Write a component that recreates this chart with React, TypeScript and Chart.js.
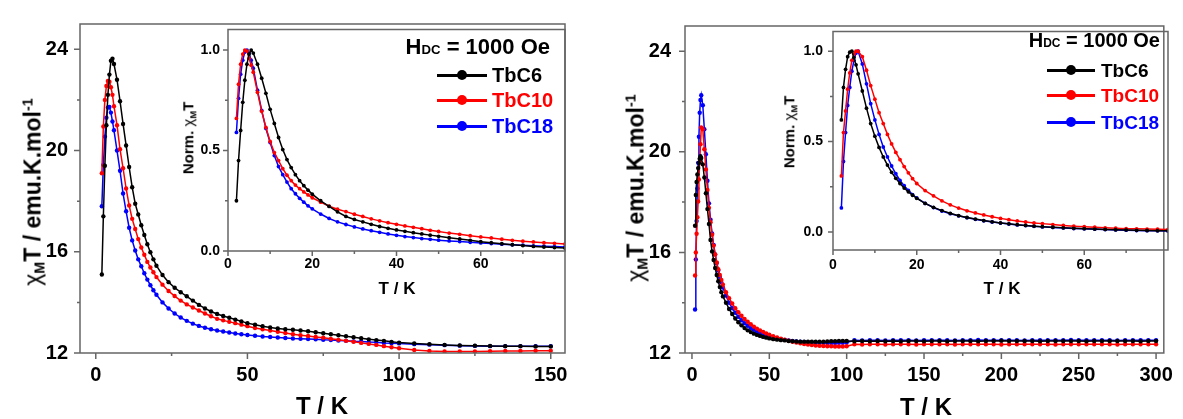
import React, { useEffect, useRef } from "react";
import { Chart, registerables } from "chart.js";

Chart.register(...registerables);

const FONT = "'Liberation Sans', Arial, Helvetica, sans-serif";
const FRAME_COLOR = "#666666";
const SERIES_NAMES = ["TbC6", "TbC10", "TbC18"];
const SERIES_COLORS = ["#000000", "#ff0000", "#0000ff"];

// ---------- temperatures (K) ----------
const tempsInset = [2, 2.5, 3, 3.5, 4, 4.5, 5, 5.5, 6, 7, 8, 9, 10, 11, 12, 13, 14, 15, 16, 17, 18, 19, 20, 22, 24, 26, 28, 30, 32, 34, 36, 38, 40, 42, 44, 46, 48, 50, 52.5, 55, 57.5, 60, 62.5, 65, 67.5, 70, 72.5, 75, 77.5, 80];
const tempsLeft = [2, 2.5, 3, 3.5, 4, 4.5, 5, 5.5, 6, 7, 8, 9, 10, 11, 12, 13, 14, 15, 16, 17, 18, 19, 20, 22, 24, 26, 28, 30, 32, 34, 36, 38, 40, 42, 44, 46, 48, 50, 52.5, 55, 57.5, 60, 62.5, 65, 67.5, 70, 72.5, 75, 77.5, 80,
  82.5, 85, 87.5, 90, 92.5, 95, 97.5, 100, 105, 110, 115, 120, 125, 130, 135, 140, 145, 150];
const tempsRight = [2, 2.5, 3, 3.5, 4, 4.5, 5, 5.5, 6, 7, 8, 9, 10, 11, 12, 13, 14, 15, 16, 17, 18, 19, 20, 22, 24, 26, 28, 30, 32, 34, 36, 38, 40, 42, 44, 46, 48, 50, 52.5, 55, 57.5, 60, 62.5, 65, 67.5, 70, 72.5, 75, 77.5, 80,
  82.5, 85, 87.5, 90, 92.5, 95, 97.5, 100, 105, 110, 115, 120, 125, 130, 135, 140, 145, 150, 155, 160, 165, 170, 175, 180, 185, 190, 195, 200,
  205, 210, 215, 220, 225, 230, 235, 240, 245, 250, 255, 260, 265, 270, 275, 280, 285, 290, 295, 300];

// ---------- left panel: chiMT (emu.K/mol) ----------
const leftTbC6 = [15.1, 17.4, 19.4, 21.0, 22.2, 23.0, 23.55, 23.63, 23.42,
  22.8, 21.95, 21.05, 20.2, 19.35, 18.55, 17.9, 17.47, 17.05, 16.66, 16.3, 15.98, 15.7, 15.45,
  15.08, 14.8, 14.58, 14.4, 14.24, 14.07, 13.9, 13.76, 13.64, 13.54, 13.46, 13.39, 13.32, 13.25, 13.18,
  13.12, 13.06, 13.01, 12.97, 12.94, 12.92, 12.89, 12.86, 12.82, 12.78, 12.74, 12.7,
  12.66, 12.62, 12.58, 12.54, 12.51, 12.48, 12.44, 12.41,
  12.38, 12.35, 12.32, 12.3, 12.29, 12.28, 12.27, 12.27, 12.26, 12.26];
const leftTbC10 = [19.1, 20.95, 22.0, 22.55, 22.75, 22.72, 22.5, 22.2, 21.75,
  21.0, 20.05, 19.3, 18.5, 17.83, 17.3, 16.9, 16.5, 16.17, 15.88, 15.6, 15.38, 15.19, 15.0,
  14.7, 14.45, 14.25, 14.07, 13.92, 13.8, 13.68, 13.56, 13.45, 13.35, 13.29, 13.23, 13.18, 13.12, 13.06,
  12.99, 12.94, 12.89, 12.84, 12.79, 12.74, 12.7, 12.67, 12.63, 12.6, 12.56, 12.52,
  12.48, 12.44, 12.4, 12.36, 12.32, 12.27, 12.23, 12.19,
  12.12, 12.08, 12.06, 12.06, 12.06, 12.07, 12.08, 12.08, 12.09, 12.09];
const leftTbC18 = [17.8, 19.43, 20.55, 21.3, 21.7, 21.72, 21.5, 21.15, 20.8,
  20.0, 19.2, 18.3, 17.6, 16.95, 16.45, 16.05, 15.7, 15.43, 15.15, 14.9, 14.68, 14.48, 14.3,
  14.0, 13.76, 13.56, 13.4, 13.27, 13.16, 13.07, 13.0, 12.94, 12.89, 12.85, 12.81, 12.77, 12.74, 12.71,
  12.68, 12.65, 12.63, 12.61, 12.59, 12.57, 12.56, 12.55, 12.54, 12.52, 12.51, 12.49,
  12.48, 12.46, 12.45, 12.43, 12.42, 12.4, 12.39, 12.38,
  12.35, 12.33, 12.31, 12.29, 12.28, 12.27, 12.27, 12.27, 12.27, 12.27];

// ---------- left inset: normalised chiMT ----------
const leftNormTbC6 = [0.25, 0.45, 0.6, 0.74, 0.85, 0.93, 0.98, 1.0, 0.985,
  0.93, 0.86, 0.785, 0.705, 0.635, 0.565, 0.505, 0.455, 0.415, 0.38, 0.35, 0.325, 0.303, 0.283,
  0.25, 0.222, 0.195, 0.172, 0.157, 0.145, 0.133, 0.122, 0.113, 0.105, 0.098, 0.091, 0.085, 0.079, 0.073,
  0.066, 0.06, 0.053, 0.046, 0.041, 0.036, 0.031, 0.027, 0.023, 0.02, 0.017, 0.015];
const leftNormTbC10 = [0.66, 0.83, 0.93, 0.98, 1.0, 0.995, 0.96, 0.925, 0.89,
  0.79, 0.695, 0.615, 0.545, 0.49, 0.45, 0.41, 0.377, 0.35, 0.328, 0.31, 0.294, 0.279, 0.265,
  0.243, 0.223, 0.208, 0.196, 0.183, 0.172, 0.16, 0.15, 0.141, 0.133, 0.125, 0.118, 0.111, 0.103, 0.097,
  0.089, 0.083, 0.076, 0.07, 0.065, 0.059, 0.053, 0.049, 0.045, 0.041, 0.038, 0.035];
const leftNormTbC18 = [0.59, 0.76, 0.88, 0.95, 0.99, 1.0, 0.985, 0.95, 0.91,
  0.8, 0.7, 0.61, 0.54, 0.475, 0.42, 0.38, 0.343, 0.31, 0.285, 0.262, 0.243, 0.225, 0.21,
  0.184, 0.162, 0.145, 0.132, 0.12, 0.11, 0.101, 0.093, 0.085, 0.078, 0.072, 0.067, 0.062, 0.058, 0.054,
  0.05, 0.047, 0.043, 0.04, 0.037, 0.034, 0.031, 0.029, 0.026, 0.024, 0.022, 0.02];

// ---------- right panel: chiMT (emu.K/mol) ----------
const rightTbC6 = [17.06, 18.28, 18.8, 19.1, 19.35, 19.56, 19.72, 19.82, 19.75,
  19.5, 18.98, 18.35, 17.72, 17.13, 16.49, 16.04, 15.7, 15.38, 15.1, 14.85, 14.62, 14.42, 14.25,
  14.0, 13.75, 13.55, 13.37, 13.22, 13.1, 12.99, 12.9, 12.83, 12.77, 12.72, 12.68, 12.64, 12.61, 12.58,
  12.55, 12.53, 12.51, 12.5, 12.48, 12.47, 12.46, 12.45, 12.45, 12.45, 12.45, 12.45,
  12.45, 12.45, 12.46, 12.47, 12.47, 12.48, 12.48, 12.48,
  12.47, 12.48, 12.47, 12.48, 12.47, 12.48, 12.47, 12.48, 12.48, 12.47,
  12.48, 12.48, 12.47, 12.48, 12.48, 12.48, 12.47, 12.48, 12.48, 12.49,
  12.48, 12.48, 12.48, 12.48, 12.47, 12.48, 12.48, 12.48, 12.48, 12.48,
  12.47, 12.48, 12.48, 12.48, 12.48, 12.48, 12.48, 12.47, 12.48, 12.48];
const rightTbC10 = [15.08, 16.0, 16.74, 17.4, 18.02, 18.9, 19.6, 20.3, 20.97,
  20.9, 20.1, 19.3, 18.48, 17.77, 17.2, 16.7, 16.27, 15.92, 15.6, 15.33, 15.1, 14.9, 14.72,
  14.42, 14.18, 13.97, 13.78, 13.62, 13.48, 13.35, 13.24, 13.14, 13.05, 12.97, 12.9, 12.84, 12.78, 12.73,
  12.67, 12.62, 12.57, 12.53, 12.49, 12.45, 12.42, 12.39, 12.36, 12.34, 12.32, 12.3,
  12.29, 12.28, 12.27, 12.27, 12.26, 12.26, 12.26, 12.27,
  12.35, 12.34, 12.35, 12.35, 12.34, 12.35, 12.35, 12.35, 12.34, 12.35,
  12.35, 12.35, 12.35, 12.34, 12.35, 12.35, 12.35, 12.35, 12.35, 12.34,
  12.35, 12.35, 12.35, 12.35, 12.35, 12.35, 12.34, 12.35, 12.35, 12.35,
  12.35, 12.35, 12.35, 12.35, 12.34, 12.35, 12.35, 12.35, 12.35, 12.35];
const rightTbC18 = [13.73, 15.72, 17.25, 18.54, 19.56, 20.6, 21.55, 22.06, 22.25,
  21.85, 20.9, 19.9, 18.85, 17.95, 17.3, 16.75, 16.3, 15.92, 15.58, 15.28, 15.02, 14.8, 14.6,
  14.28, 14.0, 13.78, 13.6, 13.44, 13.3, 13.18, 13.08, 12.99, 12.92, 12.85, 12.79, 12.74, 12.7, 12.66,
  12.62, 12.58, 12.55, 12.52, 12.5, 12.48, 12.46, 12.45, 12.44, 12.43, 12.42, 12.41,
  12.41, 12.41, 12.4, 12.4, 12.4, 12.41, 12.41, 12.42,
  12.51, 12.5, 12.51, 12.51, 12.5, 12.51, 12.51, 12.51, 12.5, 12.51,
  12.51, 12.51, 12.51, 12.5, 12.51, 12.51, 12.52, 12.51, 12.51, 12.51,
  12.51, 12.51, 12.5, 12.51, 12.51, 12.51, 12.51, 12.51, 12.52, 12.51,
  12.51, 12.51, 12.51, 12.51, 12.5, 12.51, 12.51, 12.51, 12.51, 12.51];

// ---------- right inset: normalised chiMT ----------
const rightNormTbC6 = [0.62, 0.8, 0.9, 0.97, 0.995, 1.0, 0.965, 0.925, 0.875,
  0.78, 0.685, 0.6, 0.53, 0.468, 0.415, 0.37, 0.33, 0.297, 0.268, 0.243, 0.222, 0.203, 0.186,
  0.158, 0.136, 0.118, 0.103, 0.09, 0.08, 0.071, 0.063, 0.056, 0.05, 0.045, 0.04, 0.036, 0.032, 0.029,
  0.026, 0.023, 0.02, 0.018, 0.016, 0.014, 0.012, 0.011, 0.009, 0.008, 0.007, 0.006];
const rightNormTbC10 = [0.31, 0.55, 0.67, 0.79, 0.88, 0.95, 0.985, 1.0, 1.0,
  0.97, 0.895, 0.81, 0.735, 0.66, 0.6, 0.54, 0.487, 0.44, 0.4, 0.362, 0.327, 0.295, 0.268,
  0.229, 0.2, 0.172, 0.15, 0.132, 0.117, 0.105, 0.094, 0.084, 0.075, 0.068, 0.061, 0.055, 0.05, 0.046,
  0.041, 0.036, 0.032, 0.029, 0.026, 0.023, 0.021, 0.018, 0.017, 0.016, 0.015, 0.014];
const rightNormTbC18 = [0.133, 0.39, 0.55, 0.7, 0.8, 0.89, 0.95, 0.99, 1.0,
  0.93, 0.82, 0.71, 0.62, 0.54, 0.47, 0.415, 0.365, 0.322, 0.285, 0.256, 0.23, 0.207, 0.188,
  0.158, 0.135, 0.116, 0.101, 0.089, 0.079, 0.07, 0.062, 0.055, 0.049, 0.044, 0.039, 0.035, 0.031, 0.028,
  0.025, 0.022, 0.019, 0.017, 0.015, 0.013, 0.011, 0.01, 0.008, 0.007, 0.006, 0.005];

// ---------- ticks ----------
const mainYMajor = [12, 16, 20, 24];
const mainYMinor = [14, 18, 22];
const leftXMajor = [0, 50, 100, 150];
const leftXMinor = [25, 75, 125];
const rightXMajor = [0, 50, 100, 150, 200, 250, 300];
const rightXMinor = [25, 75, 125, 175, 225, 275];
const insetXMajor = [0, 20, 40, 60];
const insetXMinor = [10, 30, 50, 70];
const insetYMajor = [0, 0.5, 1.0];
const insetYMinor = [0.25, 0.75];

type AxisDef = { min: number; max: number; major: number[]; minor: number[]; decimals: number };
type ChartDef = {
  temps: number[];
  series: number[][];
  x: AxisDef;
  y: AxisDef;
  box: { left: number; top: number; width: number; height: number };
  yAxisWidth: number;
  xAxisHeight: number;
  padTop: number;
  padRight: number;
  fontSize: number;
  xLabelPad: number;
  yLabelPad: number;
  majorLen: number;
  minorLen: number;
  pointRadius: number;
  lineWidth: number;
};

const frameTicksPlugin = {
  id: "frameTicks",
  afterDatasetsDraw(chart: any, _args: any, opts: any) {
    const { ctx, chartArea: a } = chart;
    const sx = chart.scales.x;
    const sy = chart.scales.y;
    ctx.save();
    ctx.strokeStyle = FRAME_COLOR;
    ctx.lineWidth = 1.5;
    ctx.beginPath();
    ctx.rect(a.left, a.top, a.right - a.left, a.bottom - a.top);
    const xTick = (v: number, len: number) => {
      const p = sx.getPixelForValue(v);
      ctx.moveTo(p, a.bottom);
      ctx.lineTo(p, a.bottom + len);
    };
    const yTick = (v: number, len: number) => {
      const p = sy.getPixelForValue(v);
      ctx.moveTo(a.left, p);
      ctx.lineTo(a.left - len, p);
    };
    opts.xMajor.forEach((v: number) => xTick(v, opts.majorLen));
    opts.xMinor.forEach((v: number) => xTick(v, opts.minorLen));
    opts.yMajor.forEach((v: number) => yTick(v, opts.majorLen));
    opts.yMinor.forEach((v: number) => yTick(v, opts.minorLen));
    ctx.stroke();
    ctx.restore();
  },
};

function PlotCanvas({ def }: { def: ChartDef }) {
  const ref = useRef<HTMLCanvasElement | null>(null);
  useEffect(() => {
    const canvas = ref.current;
    if (!canvas) return;
    const datasets = def.series.map((vals, i) => ({
      label: SERIES_NAMES[i],
      data: def.temps.map((t, j) => ({ x: t, y: vals[j] })),
      borderColor: SERIES_COLORS[i],
      backgroundColor: SERIES_COLORS[i],
      borderWidth: def.lineWidth,
      pointRadius: def.pointRadius,
      pointBorderWidth: 0,
      pointHoverRadius: def.pointRadius,
      tension: 0,
      fill: false,
    }));
    const tickFont = { family: FONT, size: def.fontSize, weight: "bold" as const };
    const chart = new Chart(canvas, {
      type: "line",
      data: { datasets },
      options: {
        responsive: false,
        animation: false,
        devicePixelRatio: 1,
        events: [],
        layout: { padding: { top: def.padTop, right: def.padRight, left: 0, bottom: 0 } },
        plugins: {
          legend: { display: false },
          tooltip: { enabled: false },
          frameTicks: {
            xMajor: def.x.major,
            xMinor: def.x.minor,
            yMajor: def.y.major,
            yMinor: def.y.minor,
            majorLen: def.majorLen,
            minorLen: def.minorLen,
          },
        } as any,
        scales: {
          x: {
            type: "linear",
            min: def.x.min,
            max: def.x.max,
            afterBuildTicks: (s: any) => {
              s.ticks = def.x.major.map((v) => ({ value: v }));
            },
            afterFit: (s: any) => {
              s.height = def.xAxisHeight;
            },
            grid: { display: false, drawTicks: false },
            border: { display: false },
            ticks: {
              padding: def.xLabelPad,
              color: "#000",
              font: tickFont,
              autoSkip: false,
              maxRotation: 0,
              callback: (v: any) => Number(v).toFixed(def.x.decimals),
            },
          },
          y: {
            type: "linear",
            min: def.y.min,
            max: def.y.max,
            afterBuildTicks: (s: any) => {
              s.ticks = def.y.major.map((v) => ({ value: v }));
            },
            afterFit: (s: any) => {
              s.width = def.yAxisWidth;
            },
            grid: { display: false, drawTicks: false },
            border: { display: false },
            ticks: {
              padding: def.yLabelPad,
              color: "#000",
              font: tickFont,
              autoSkip: false,
              callback: (v: any) => Number(v).toFixed(def.y.decimals),
            },
          },
        },
      } as any,
      plugins: [frameTicksPlugin as any],
    });
    return () => chart.destroy();
  }, [def]);
  return (
    <canvas
      ref={ref}
      width={def.box.width}
      height={def.box.height}
      style={{ position: "absolute", left: def.box.left, top: def.box.top, width: def.box.width, height: def.box.height }}
    />
  );
}

const leftMain: ChartDef = {
  temps: tempsLeft,
  series: [leftTbC6, leftTbC10, leftTbC18],
  x: { min: -5.2, max: 154.7, major: leftXMajor, minor: leftXMinor, decimals: 0 },
  y: { min: 12, max: 25, major: mainYMajor, minor: mainYMinor, decimals: 0 },
  box: { left: 0, top: 0, width: 590, height: 419 },
  yAxisWidth: 80,
  xAxisHeight: 66,
  padTop: 15,
  padRight: 25,
  fontSize: 20,
  xLabelPad: 10,
  yLabelPad: 12,
  majorLen: 6,
  minorLen: 3,
  pointRadius: 2.2,
  lineWidth: 1.5,
};

const rightMain: ChartDef = {
  temps: tempsRight,
  series: [rightTbC6, rightTbC10, rightTbC18],
  x: { min: -4.5, max: 305, major: rightXMajor, minor: rightXMinor, decimals: 0 },
  y: { min: 12, max: 25, major: mainYMajor, minor: mainYMinor, decimals: 0 },
  box: { left: 600, top: 0, width: 583, height: 419 },
  yAxisWidth: 85,
  xAxisHeight: 66,
  padTop: 15,
  padRight: 15,
  fontSize: 20,
  xLabelPad: 10,
  yLabelPad: 14,
  majorLen: 6,
  minorLen: 3,
  pointRadius: 2.2,
  lineWidth: 1.5,
};

const leftInset: ChartDef = {
  temps: tempsInset,
  series: [leftNormTbC6, leftNormTbC10, leftNormTbC18],
  x: { min: 0, max: 80, major: insetXMajor, minor: insetXMinor, decimals: 0 },
  y: { min: 0, max: 1.103, major: insetYMajor, minor: insetYMinor, decimals: 1 },
  box: { left: 183, top: 13, width: 384, height: 268 },
  yAxisWidth: 45,
  xAxisHeight: 30,
  padTop: 2,
  padRight: 2,
  fontSize: 14,
  xLabelPad: 5,
  yLabelPad: 8,
  majorLen: 5,
  minorLen: 3,
  pointRadius: 1.9,
  lineWidth: 1.5,
};

const rightInset: ChartDef = {
  temps: tempsInset,
  series: [rightNormTbC6, rightNormTbC10, rightNormTbC18],
  x: { min: 0, max: 80, major: insetXMajor, minor: insetXMinor, decimals: 0 },
  y: { min: -0.1, max: 1.11, major: insetYMajor, minor: insetYMinor, decimals: 1 },
  box: { left: 788, top: 13, width: 382, height: 267 },
  yAxisWidth: 45,
  xAxisHeight: 30,
  padTop: 2,
  padRight: 2,
  fontSize: 14,
  xLabelPad: 7,
  yLabelPad: 10,
  majorLen: 5,
  minorLen: 3,
  pointRadius: 1.9,
  lineWidth: 1.5,
};

const subStyle: React.CSSProperties = { fontSize: "0.62em", position: "relative", top: "0.3em" };
const supStyle: React.CSSProperties = { fontSize: "0.62em", position: "relative", top: "-0.55em" };

function XTitle({ cx, cy, size }: { cx: number; cy: number; size: number }) {
  return (
    <div
      style={{
        position: "absolute",
        left: cx,
        top: cy,
        transform: "translate(-50%, -50%)",
        font: `bold ${size}px ${FONT}`,
        lineHeight: 1,
        whiteSpace: "nowrap",
        color: "#000",
      }}
    >
      T / K
    </div>
  );
}

function ChiTitle({ cx, cy, size }: { cx: number; cy: number; size: number }) {
  return (
    <div
      style={{
        position: "absolute",
        left: cx,
        top: cy,
        transform: "translate(-50%, -50%) rotate(-90deg)",
        font: `bold ${size}px ${FONT}`,
        lineHeight: 1,
        whiteSpace: "nowrap",
        color: "#000",
      }}
    >
      <span style={{ fontWeight: "normal" }}>χ</span>
      <span style={subStyle}>M</span>T / emu.K.mol<span style={supStyle}>-1</span>
    </div>
  );
}

function NormTitle({ cx, cy, size }: { cx: number; cy: number; size: number }) {
  return (
    <div
      style={{
        position: "absolute",
        left: cx,
        top: cy,
        transform: "translate(-50%, -50%) rotate(-90deg)",
        font: `bold ${size}px ${FONT}`,
        lineHeight: 1,
        whiteSpace: "nowrap",
        color: "#000",
      }}
    >
      Norm. <span style={{ fontWeight: "normal" }}>χ</span>
      <span style={subStyle}>M</span>T
    </div>
  );
}

function LegendBlock({
  headRight,
  headY,
  headSize,
  lineX1,
  lineX2,
  textX,
  rowsY,
  size,
}: {
  headRight: number;
  headY: number;
  headSize: number;
  lineX1: number;
  lineX2: number;
  textX: number;
  rowsY: number[];
  size: number;
}) {
  return (
    <>
      <div
        style={{
          position: "absolute",
          right: 1183 - headRight,
          top: headY - headSize * 0.49,
          font: `bold ${headSize}px ${FONT}`,
          lineHeight: 1,
          whiteSpace: "nowrap",
          color: "#000",
        }}
      >
        H<span style={{ fontSize: "0.6em" }}>DC</span> = 1000 Oe
      </div>
      {rowsY.map((y, i) => (
        <React.Fragment key={i}>
          <div
            style={{
              position: "absolute",
              left: lineX1,
              top: y - 1.5,
              width: lineX2 - lineX1,
              height: 3,
              background: SERIES_COLORS[i],
            }}
          />
          <div
            style={{
              position: "absolute",
              left: (lineX1 + lineX2) / 2 - 5,
              top: y - 5,
              width: 10,
              height: 10,
              borderRadius: "50%",
              background: SERIES_COLORS[i],
            }}
          />
          <div
            style={{
              position: "absolute",
              left: textX,
              top: y - size * 0.49,
              font: `bold ${size}px ${FONT}`,
              lineHeight: 1,
              whiteSpace: "nowrap",
              color: SERIES_COLORS[i],
            }}
          >
            {SERIES_NAMES[i]}
          </div>
        </React.Fragment>
      ))}
    </>
  );
}

export default function App() {
  useEffect(() => {
    document.body.style.margin = "0";
    document.body.style.background = "#ffffff";
  }, []);
  return (
    <div style={{ position: "absolute", left: 0, top: 0, width: 1183, height: 419, background: "#ffffff", overflow: "hidden" }}>
      <PlotCanvas def={leftMain} />
      <PlotCanvas def={rightMain} />
      <PlotCanvas def={leftInset} />
      <PlotCanvas def={rightInset} />
      <XTitle cx={322} cy={406} size={24} />
      <XTitle cx={926} cy={407} size={24} />
      <ChiTitle cx={33} cy={192} size={23} />
      <ChiTitle cx={636} cy={188} size={23} />
      <XTitle cx={397} cy={288} size={17} />
      <XTitle cx={1002} cy={288} size={17} />
      <NormTitle cx={188} cy={138} size={15} />
      <NormTitle cx={789} cy={132} size={15} />
      <LegendBlock headRight={550} headY={47} headSize={22} lineX1={437} lineX2={487} textX={492} rowsY={[75, 100, 126]} size={20} />
      <LegendBlock headRight={1160} headY={40} headSize={20} lineX1={1047} lineX2={1095} textX={1101} rowsY={[70, 95, 122]} size={19} />
    </div>
  );
}
